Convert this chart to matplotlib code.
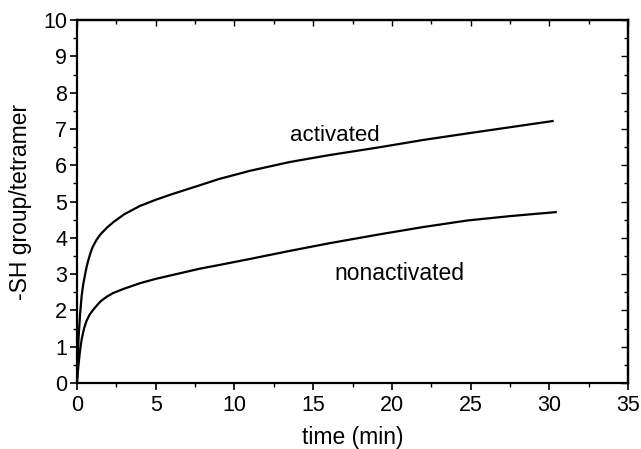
import matplotlib
matplotlib.use('Agg')
import matplotlib.pyplot as plt
from matplotlib.ticker import MultipleLocator, NullFormatter

# values
time_act = [0, 0.05, 0.1, 0.2, 0.3, 0.4, 0.5, 0.6, 0.7, 0.85, 1.0, 1.25, 1.5,
            1.9, 2.3, 3, 4, 5, 6, 7.8, 9, 11, 13.5, 16, 19.25, 22, 24.8, 27.5, 30.2]
sh_act = [0, 0.6, 1.2, 1.9, 2.4, 2.72, 2.95, 3.17, 3.35, 3.57, 3.75, 3.95, 4.1,
          4.28, 4.43, 4.65, 4.88, 5.05, 5.2, 5.45, 5.62, 5.85, 6.09, 6.28, 6.5,
          6.7, 6.88, 7.05, 7.22]

time_non = [0, 0.1, 0.2, 0.3, 0.45, 0.6, 0.8, 1.0, 1.25, 1.5, 1.9, 2.3, 3, 4, 5,
            6, 7.8, 9, 11, 13.5, 16, 19.25, 22, 24.8, 27.5, 30.4]
sh_non = [0, 0.5, 0.9, 1.2, 1.5, 1.7, 1.88, 2.0, 2.13, 2.25, 2.38, 2.48, 2.6,
          2.75, 2.87, 2.97, 3.15, 3.25, 3.42, 3.64, 3.85, 4.1, 4.3, 4.48, 4.6, 4.71]

plt.rcParams['font.family'] = ['Liberation Sans', 'DejaVu Sans']

fig = plt.figure(figsize=(6.41, 4.49), dpi=100)
ax = fig.add_axes([0.120, 0.147, 0.860, 0.808])

ax.plot(time_act, sh_act, color='black', lw=1.6)
ax.plot(time_non, sh_non, color='black', lw=1.6)

ax.text(16.4, 6.83, 'activated', fontsize=16, ha='center', va='center')
ax.text(20.5, 3.03, 'nonactivated', fontsize=16.5, ha='center', va='center')

ax.set_xlim(0, 35)
ax.set_ylim(0, 10)
ax.xaxis.set_major_locator(MultipleLocator(5))
ax.xaxis.set_minor_locator(MultipleLocator(2.5))
ax.yaxis.set_major_locator(MultipleLocator(1))
ax.yaxis.set_minor_locator(MultipleLocator(0.5))

ax.tick_params(axis='both', which='major', labelsize=15.5, width=1.2, length=5,
               direction='out', colors='black', pad=2)
ax.tick_params(axis='x', which='major', pad=4)
ax.tick_params(axis='both', which='minor', width=1.0, length=3, direction='out')

# top and right ticks point inward
top = ax.secondary_xaxis('top')
top.xaxis.set_major_locator(MultipleLocator(5))
top.xaxis.set_minor_locator(MultipleLocator(2.5))
top.xaxis.set_major_formatter(NullFormatter())
top.tick_params(which='major', direction='in', length=4, width=1.0)
top.tick_params(which='minor', direction='in', length=3, width=1.0)
right = ax.secondary_yaxis('right')
right.yaxis.set_major_locator(MultipleLocator(1))
right.yaxis.set_minor_locator(MultipleLocator(0.5))
right.yaxis.set_major_formatter(NullFormatter())
right.tick_params(which='major', direction='in', length=5, width=1.0)
right.tick_params(which='minor', direction='in', length=3, width=1.0)

for s in ax.spines.values():
    s.set_linewidth(1.6)
top.spines['top'].set_linewidth(1.6)
right.spines['right'].set_linewidth(1.6)

ax.set_xlabel('time (min)', fontsize=16.5, labelpad=7)
ax.set_ylabel('-SH group/tetramer', fontsize=16.5, labelpad=8)

fig.savefig('out.png', dpi=100)
